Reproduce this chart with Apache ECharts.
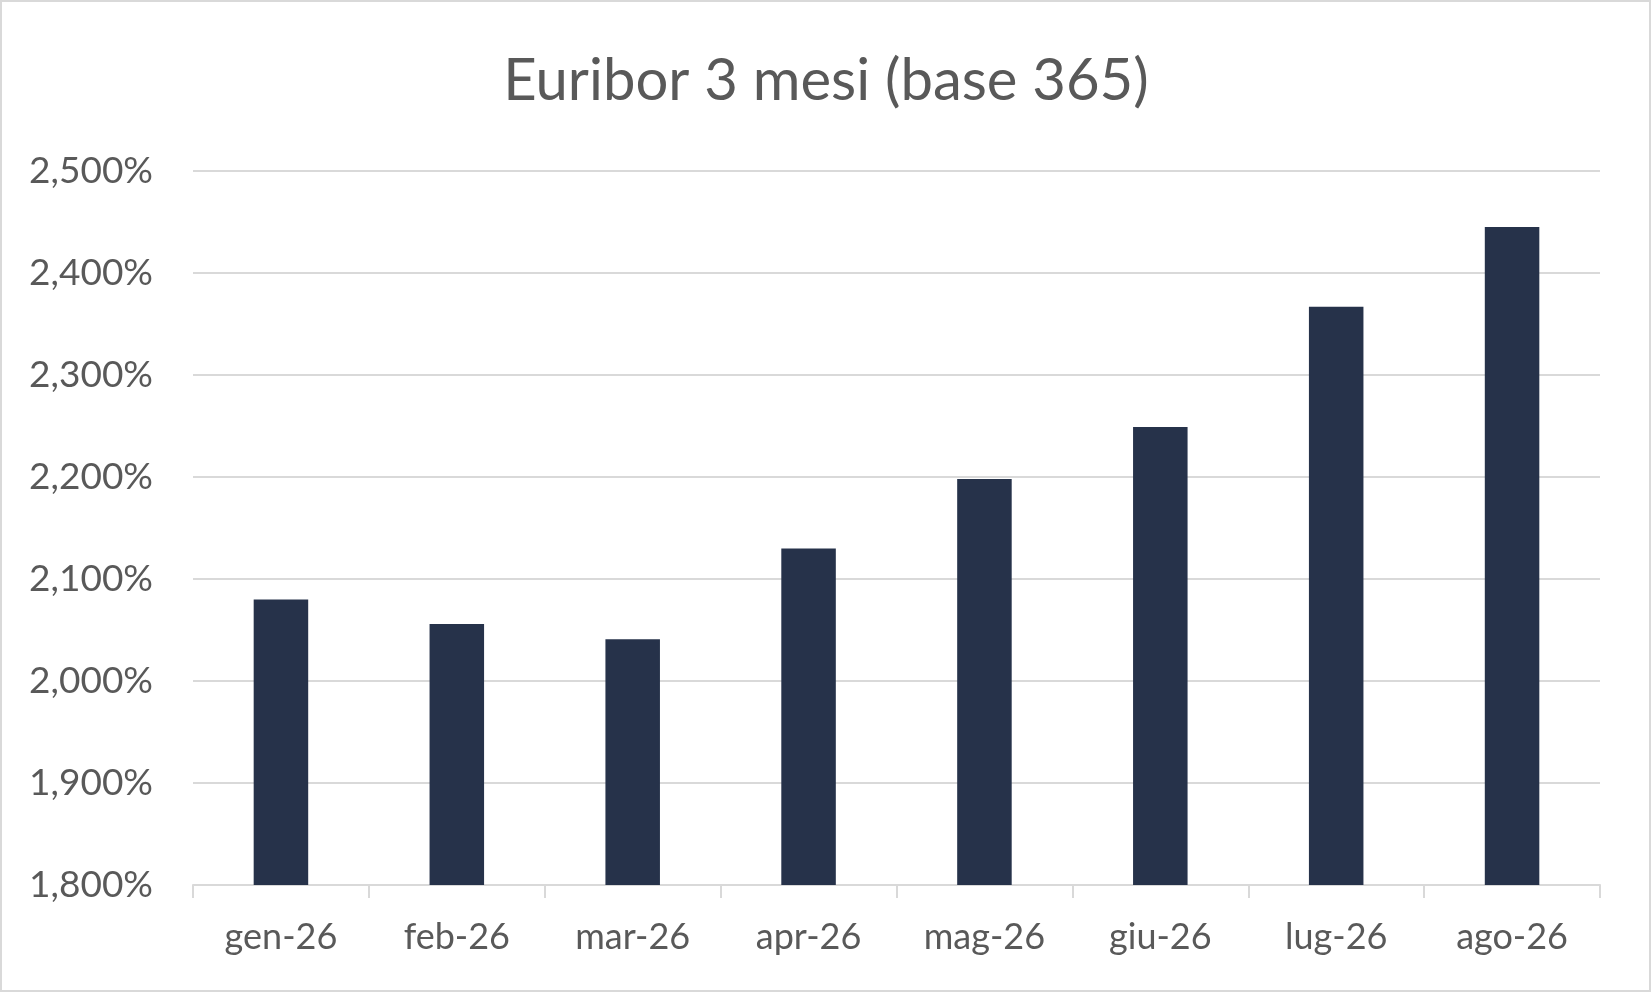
<!DOCTYPE html>
<html lang="it">
<head>
  <meta charset="UTF-8">
  <title>Euribor 3 mesi (base 365)</title>
  <style>
    html, body { margin: 0; padding: 0; background: #fff; }
    #chart { width: 1652px; height: 993px; }
  </style>
  <script src="https://cdn.jsdelivr.net/npm/echarts@6/dist/echarts.min.js"></script>
</head>
<body>
  <div id="chart"></div>
  <script>
    // dati
    var mesi = ['gen-26', 'feb-26', 'mar-26', 'apr-26', 'mag-26', 'giu-26', 'lug-26', 'ago-26'];
    var euribor = [2.080, 2.056, 2.041, 2.130, 2.198, 2.249, 2.367, 2.445];
    var asseMin = 1.8, asseMax = 2.5, passo = 0.1;

    var testo = '#595959';
    var grigio = '#d9d9d9';
    var font = 'Lato';

    var myChart = echarts.init(document.getElementById('chart'));
    var option = {
      animation: false,
      backgroundColor: '#fff',
      title: {
        text: 'Euribor 3 mesi (base 365)',
        left: 'center',
        top: 47,
        textStyle: { color: testo, fontFamily: font, fontSize: 58, fontWeight: 'normal' }
      },
      graphic: [{
        type: 'rect',
        shape: { x: 1, y: 1, width: 1649, height: 990 },
        style: { fill: 'none', stroke: grigio, lineWidth: 2 },
        silent: true
      }],
      grid: { left: 193, right: 52, top: 171, bottom: 108 },
      xAxis: {
        type: 'category',
        data: mesi,
        axisLine: { lineStyle: { color: grigio, width: 2 } },
        axisTick: { show: true, length: 13, lineStyle: { color: grigio, width: 2 } },
        axisLabel: { color: testo, fontFamily: font, fontSize: 36, margin: 34 }
      },
      yAxis: {
        type: 'value',
        min: asseMin,
        max: asseMax,
        interval: passo,
        axisLine: { show: false },
        axisTick: { show: false },
        splitLine: { lineStyle: { color: grigio, width: 2 } },
        axisLabel: {
          color: testo, fontFamily: font, fontSize: 37, margin: 40,
          formatter: function (v) { return v.toFixed(3).replace('.', ',') + '%'; }
        }
      },
      series: [{
        type: 'bar',
        data: euribor,
        barCategoryGap: '69%',
        itemStyle: { color: '#26324a' }
      }]
    };
    myChart.setOption(option);
  </script>
</body>
</html>
